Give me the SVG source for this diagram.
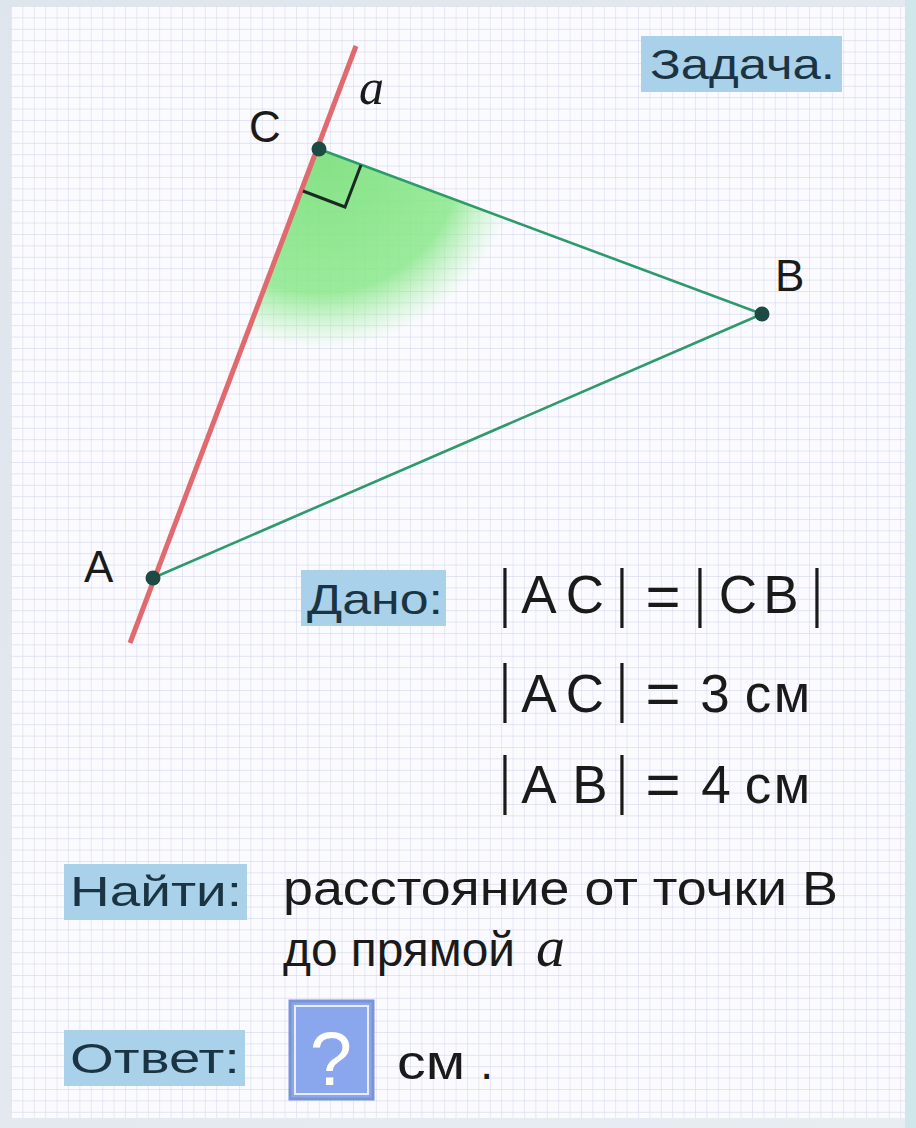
<svg xmlns="http://www.w3.org/2000/svg" width="916" height="1128" viewBox="0 0 916 1128">
<defs>
<pattern id="grid" x="11" y="6" width="11.4" height="11.4" patternUnits="userSpaceOnUse">
<path d="M0 0H11.4M0 0V11.4" fill="none" stroke="#d8dbee" stroke-width="1.2"/>
</pattern>
<radialGradient id="shade" cx="319" cy="149" r="200" gradientUnits="userSpaceOnUse">
<stop offset="0" stop-color="#7ee07e" stop-opacity="0.95"/>
<stop offset="0.72" stop-color="#8ae88a" stop-opacity="0.85"/>
<stop offset="1" stop-color="#a8f0a8" stop-opacity="0"/>
</radialGradient>
<linearGradient id="bg" x1="0" y1="0" x2="1" y2="1">
<stop offset="0" stop-color="#dfe5ec"/>
<stop offset="1" stop-color="#e8edf2"/>
</linearGradient>
<style>
.lbl{font-family:"Liberation Sans",Arial,sans-serif;fill:#1a1a1a}
.box{fill:#a9d1ea}
.boxt{font-family:"Liberation Sans",Arial,sans-serif;font-size:42px;fill:#1b3443}
.eq{font-family:"Liberation Sans",Arial,sans-serif;font-size:53px;fill:#1a1a1a;text-anchor:middle}
.bar{font-family:"Liberation Sans",Arial,sans-serif;font-size:40px;fill:#1a1a1a;text-anchor:middle}
.eqs{font-family:"Liberation Sans",Arial,sans-serif;font-size:60px;fill:#1a1a1a;text-anchor:middle}
.txt{font-family:"Liberation Sans",Arial,sans-serif;font-size:48px;fill:#1a1a1a}
.it{font-family:"Liberation Serif","Times New Roman",serif;font-style:italic;fill:#1a1a1a}
.seg{stroke:#2e9a6c;stroke-width:2.6;fill:none}
.pt{fill:#1e4a44}
</style>
</defs>
<rect width="916" height="1128" fill="url(#bg)"/>
<rect x="905" y="0" width="11" height="1128" fill="#cfe6ea"/>
<rect x="11" y="6" width="894" height="1112" fill="#fbfbff"/>
<rect x="11" y="6" width="894" height="1112" fill="url(#grid)"/>

<g id="shading">
<path d="M319 149 L153 578 L762 314 Z" fill="url(#shade)"/>
</g>

<g id="connectors">
<line id="line-a" x1="130" y1="643" x2="356" y2="46" stroke="#e06a6e" stroke-width="5"/>
<line id="CB" class="seg" x1="319" y1="149" x2="762" y2="314"/>
<line id="AB" class="seg" x1="153" y1="578" x2="762" y2="314"/>
<path id="right-angle" d="M303 191 L345 207 L361 165" fill="none" stroke="#1a2a22" stroke-width="3"/>
</g>

<g id="node-C">
<circle class="pt" cx="319" cy="149" r="7.5"/>
<text class="lbl" x="249" y="142" font-size="44">C</text>
</g>
<g id="node-B">
<circle class="pt" cx="762" cy="314" r="7.5"/>
<text class="lbl" x="775" y="291" font-size="44">B</text>
</g>
<g id="node-A">
<circle class="pt" cx="153" cy="578" r="7.5"/>
<text class="lbl" x="84" y="582" font-size="44">A</text>
</g>
<g id="label-a">
<text class="it" x="359" y="104" font-size="50">a</text>
</g>

<g id="task">
<rect class="box" x="641" y="36" width="201" height="56"/>
<text class="boxt" x="650" y="79" textLength="185" lengthAdjust="spacingAndGlyphs">Задача.</text>
</g>

<g id="given">
<rect class="box" x="301" y="570" width="145" height="56"/>
<text class="boxt" x="307" y="614" textLength="136" lengthAdjust="spacingAndGlyphs">Дано:</text>
<text class="bar" transform="translate(505,615) scale(1,1.6)">|</text>
<text class="eq" x="539" y="613">A</text>
<text class="eq" x="585" y="613">C</text>
<text class="bar" transform="translate(622,615) scale(1,1.6)">|</text>
<text class="eqs" x="663" y="617">=</text>
<text class="bar" transform="translate(700,615) scale(1,1.6)">|</text>
<text class="eq" x="738" y="613">C</text>
<text class="eq" x="781" y="613">B</text>
<text class="bar" transform="translate(817,615) scale(1,1.6)">|</text>

<text class="bar" transform="translate(505,710) scale(1,1.6)">|</text>
<text class="eq" x="539" y="712">A</text>
<text class="eq" x="585" y="712">C</text>
<text class="bar" transform="translate(622,710) scale(1,1.6)">|</text>
<text class="eqs" x="663" y="714">=</text>
<text class="eq" x="715" y="712">3</text>
<text class="eq" x="758" y="712">с</text>
<text class="eq" x="792" y="712">м</text>

<text class="bar" transform="translate(505,802) scale(1,1.6)">|</text>
<text class="eq" x="539" y="803">A</text>
<text class="eq" x="590" y="803">B</text>
<text class="bar" transform="translate(622,802) scale(1,1.6)">|</text>
<text class="eqs" x="663" y="805">=</text>
<text class="eq" x="716" y="803">4</text>
<text class="eq" x="758" y="803">с</text>
<text class="eq" x="792" y="803">м</text>
</g>

<g id="find">
<rect class="box" x="64" y="864" width="183" height="56"/>
<text class="boxt" x="70" y="906" textLength="172" lengthAdjust="spacingAndGlyphs">Найти:</text>
<text class="txt" x="283" y="905" textLength="555" lengthAdjust="spacingAndGlyphs">расстояние от точки B</text>
<text class="txt" x="283" y="966" textLength="232" lengthAdjust="spacingAndGlyphs">до прямой</text>
<text class="it" x="536" y="966" font-size="58">a</text>
</g>

<g id="answer">
<rect class="box" x="64" y="1030" width="181" height="56"/>
<text class="boxt" x="70" y="1073" textLength="170" lengthAdjust="spacingAndGlyphs">Ответ:</text>
<rect x="290" y="1001" width="83" height="98" fill="#8aa6ec" stroke="#7a94d6" stroke-width="3"/>
<rect x="295" y="1006" width="73" height="88" fill="none" stroke="#e8eeff" stroke-width="2"/>
<text x="331" y="1085" font-family="Liberation Sans, Arial, sans-serif" font-size="76" fill="#ffffff" text-anchor="middle">?</text>
<text class="txt" x="397" y="1079" font-size="54" textLength="68" lengthAdjust="spacingAndGlyphs">см</text>
<text class="txt" x="480" y="1079" font-size="50">.</text>
</g>
</svg>
